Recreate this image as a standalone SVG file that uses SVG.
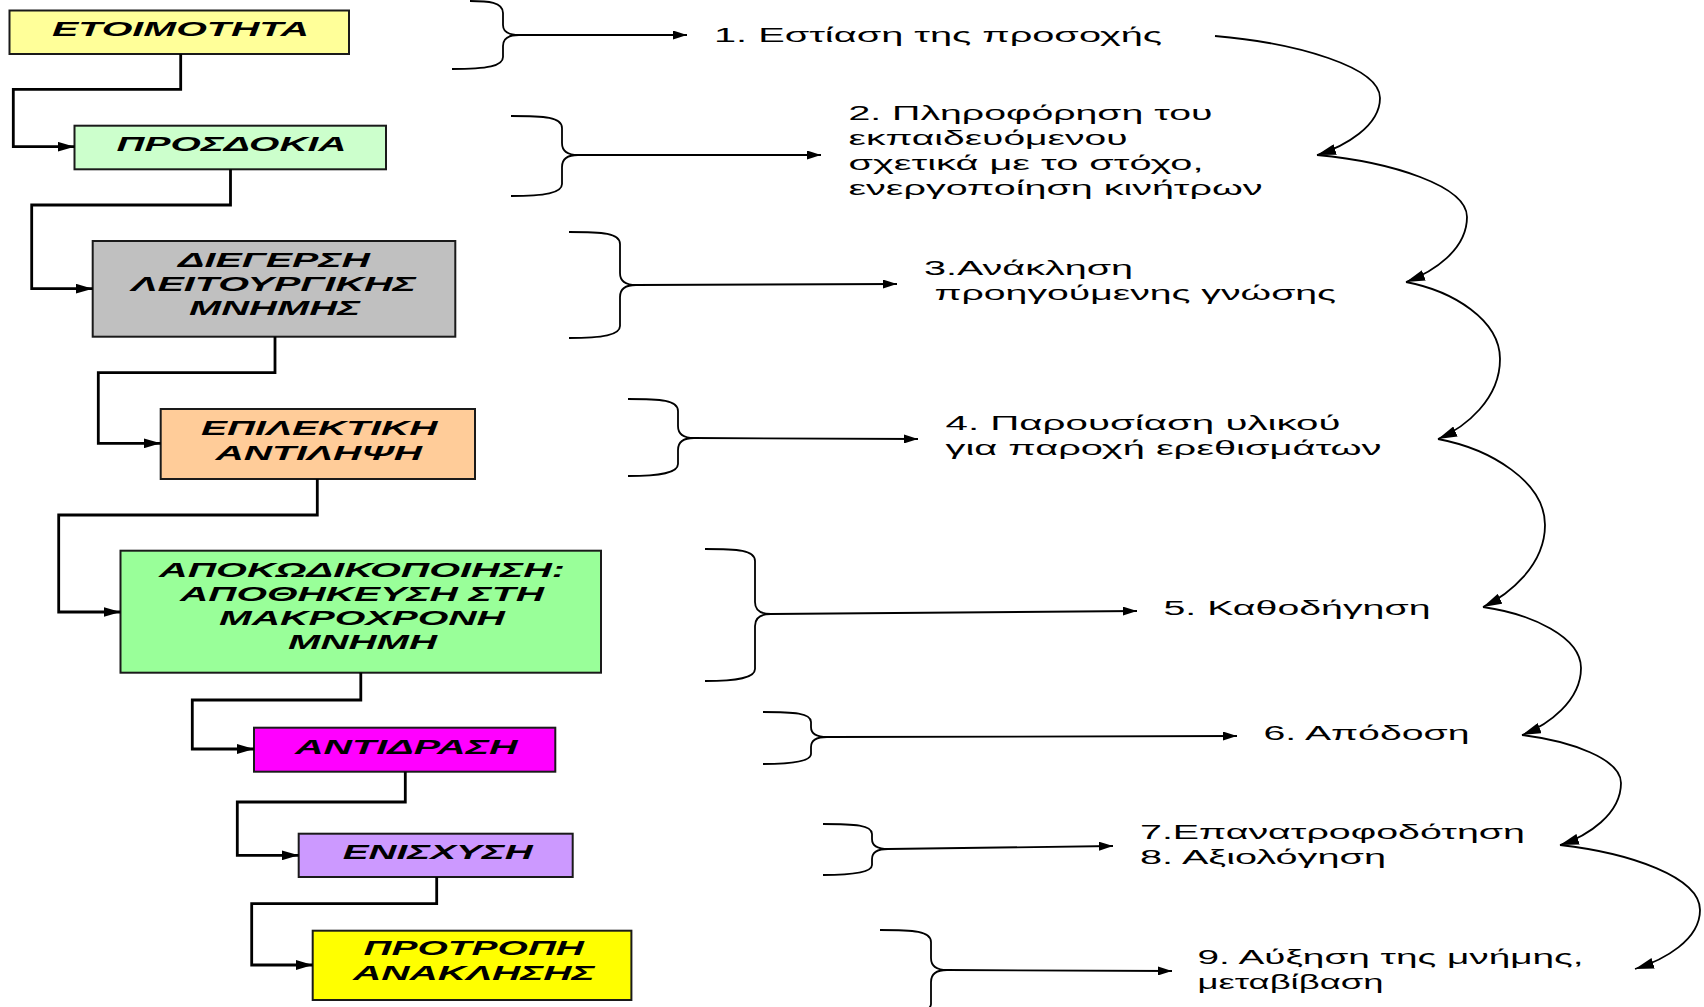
<svg xmlns="http://www.w3.org/2000/svg" width="1704" height="1007" viewBox="0 0 1704 1007">
<style>
.box{stroke:#1a1a1a;stroke-width:2}
.bt{font-family:"Liberation Sans",Arial,sans-serif;font-weight:bold;font-style:italic;font-size:21px;fill:#000}
.rt{font-family:"Liberation Sans",Arial,sans-serif;font-size:20px;fill:#000}
.conn{fill:none;stroke:#000;stroke-width:2.8}
.thin{fill:none;stroke:#000;stroke-width:1.8}
</style>
<defs>
<marker id="ah" markerWidth="17" markerHeight="10" refX="17" refY="5" orient="auto" markerUnits="userSpaceOnUse"><path d="M0,0 L17,5 L0,10 z" fill="#000"/></marker>
<marker id="ah2" markerWidth="14" markerHeight="9" refX="14" refY="4.5" orient="auto" markerUnits="userSpaceOnUse"><path d="M0,0 L14,4.5 L0,9 z" fill="#000"/></marker>
<marker id="ah3" markerWidth="19" markerHeight="11" refX="19" refY="5.5" orient="auto" markerUnits="userSpaceOnUse"><path d="M0,0 L19,5.5 L0,11 z" fill="#000"/></marker>
</defs>
<rect width="1704" height="1007" fill="#fff"/>

<g id="n1"><rect class="box" x="9.5" y="10.5" width="339.5" height="43.5" fill="#FFFF99"/>
<text class="bt" x="52" y="36" textLength="257" lengthAdjust="spacingAndGlyphs">ΕΤΟΙΜΟΤΗΤΑ</text></g>
<g id="n2"><rect class="box" x="74.5" y="125.7" width="311.5" height="43.6" fill="#CCFFCC"/>
<text class="bt" x="116.5" y="151" textLength="230" lengthAdjust="spacingAndGlyphs">ΠΡΟΣΔΟΚΙΑ</text></g>
<g id="n3"><rect class="box" x="92.7" y="241" width="362.6" height="95.7" fill="#C0C0C0"/>
<text class="bt" x="178" y="266.5" textLength="192" lengthAdjust="spacingAndGlyphs">ΔΙΕΓΕΡΣΗ</text>
<text class="bt" x="131" y="290.5" textLength="285" lengthAdjust="spacingAndGlyphs">ΛΕΙΤΟΥΡΓΙΚΗΣ</text>
<text class="bt" x="189" y="314.5" textLength="171" lengthAdjust="spacingAndGlyphs">ΜΝΗΜΗΣ</text></g>
<g id="n4"><rect class="box" x="160.7" y="409" width="314.3" height="70" fill="#FFCC99"/>
<text class="bt" x="201" y="434.5" textLength="236.5" lengthAdjust="spacingAndGlyphs">ΕΠΙΛΕΚΤΙΚΗ</text>
<text class="bt" x="215.5" y="459.5" textLength="206.5" lengthAdjust="spacingAndGlyphs">ΑΝΤΙΛΗΨΗ</text></g>
<g id="n5"><rect class="box" x="120.5" y="550.7" width="480.5" height="122" fill="#99FF99"/>
<text class="bt" x="159" y="577" textLength="406" lengthAdjust="spacingAndGlyphs">ΑΠΟΚΩΔΙΚΟΠΟΙΗΣΗ:</text>
<text class="bt" x="180" y="600.5" textLength="364" lengthAdjust="spacingAndGlyphs">ΑΠΟΘΗΚΕΥΣΗ ΣΤΗ</text>
<text class="bt" x="219" y="624.5" textLength="286" lengthAdjust="spacingAndGlyphs">ΜΑΚΡΟΧΡΟΝΗ</text>
<text class="bt" x="288" y="649" textLength="149" lengthAdjust="spacingAndGlyphs">ΜΝΗΜΗ</text></g>
<g id="n6"><rect class="box" x="254" y="727.7" width="301.3" height="44" fill="#FF00FF"/>
<text class="bt" x="295" y="754" textLength="222.5" lengthAdjust="spacingAndGlyphs">ΑΝΤΙΔΡΑΣΗ</text></g>
<g id="n7"><rect class="box" x="298.7" y="833.7" width="274" height="43.3" fill="#CC99FF"/>
<text class="bt" x="342.7" y="859" textLength="190" lengthAdjust="spacingAndGlyphs">ΕΝΙΣΧΥΣΗ</text></g>
<g id="n8"><rect class="box" x="312.7" y="930.7" width="318.7" height="69.3" fill="#FFFF00"/>
<text class="bt" x="363.5" y="954.5" textLength="220.5" lengthAdjust="spacingAndGlyphs">ΠΡΟΤΡΟΠΗ</text>
<text class="bt" x="353" y="979.5" textLength="241.7" lengthAdjust="spacingAndGlyphs">ΑΝΑΚΛΗΣΗΣ</text></g>

<g id="t1"><text class="rt" x="714" y="42" textLength="448" lengthAdjust="spacingAndGlyphs">1. Εστίαση της προσοχής</text></g>
<g id="t2">
<text class="rt" x="848.5" y="120" textLength="364" lengthAdjust="spacingAndGlyphs">2. Πληροφόρηση του</text>
<text class="rt" x="848.5" y="145" textLength="279" lengthAdjust="spacingAndGlyphs">εκπαιδευόμενου</text>
<text class="rt" x="848.5" y="170" textLength="355" lengthAdjust="spacingAndGlyphs">σχετικά με το στόχο,</text>
<text class="rt" x="848.5" y="195" textLength="414" lengthAdjust="spacingAndGlyphs">ενεργοποίηση κινήτρων</text></g>
<g id="t3">
<text class="rt" x="924" y="275" textLength="209" lengthAdjust="spacingAndGlyphs">3.Ανάκληση</text>
<text class="rt" x="934.5" y="300" textLength="401.5" lengthAdjust="spacingAndGlyphs">προηγούμενης γνώσης</text></g>
<g id="t4">
<text class="rt" x="945.5" y="430" textLength="395" lengthAdjust="spacingAndGlyphs">4. Παρουσίαση υλικού</text>
<text class="rt" x="945.5" y="455" textLength="436" lengthAdjust="spacingAndGlyphs">για παροχή ερεθισμάτων</text></g>
<g id="t5"><text class="rt" x="1163.5" y="615" textLength="267" lengthAdjust="spacingAndGlyphs">5. Καθοδήγηση</text></g>
<g id="t6"><text class="rt" x="1263.5" y="740" textLength="206" lengthAdjust="spacingAndGlyphs">6. Απόδοση</text></g>
<g id="t7">
<text class="rt" x="1140" y="839" textLength="385" lengthAdjust="spacingAndGlyphs">7.Επανατροφοδότηση</text>
<text class="rt" x="1140" y="864" textLength="246" lengthAdjust="spacingAndGlyphs">8. Αξιολόγηση</text></g>
<g id="t9">
<text class="rt" x="1197.5" y="964" textLength="386" lengthAdjust="spacingAndGlyphs">9. Αύξηση της μνήμης,</text>
<text class="rt" x="1197.5" y="989" textLength="186" lengthAdjust="spacingAndGlyphs">μεταβίβαση</text></g>

<g id="connectors">
<path class="conn" marker-end="url(#ah)" d="M180.7,54 V89.3 H13.3 V146.7 H74.5"/>
<path class="conn" marker-end="url(#ah)" d="M230.5,169.3 V205 H31.7 V288.7 H92.7"/>
<path class="conn" marker-end="url(#ah)" d="M275,336.7 V372.7 H98.3 V443.3 H160.7"/>
<path class="conn" marker-end="url(#ah)" d="M317.3,479 V515 H58.7 V612 H120.5"/>
<path class="conn" marker-end="url(#ah)" d="M360.8,672.7 V700 H192.3 V749 H254"/>
<path class="conn" marker-end="url(#ah)" d="M405.3,771.7 V802 H237.3 V855.3 H298.7"/>
<path class="conn" marker-end="url(#ah)" d="M436.7,877 V903.7 H251.7 V965 H312.7"/>

<path class="thin" d="M470,1 C488,1 503,2 503,13 V25 C503,31 507,35 519,35 C507,35 503,39 503,46 V57 C503,66 488,69 452,69"/>
<path class="thin" d="M511,116 C545,116 562,117 562,128 V143 C562,150 566,155 578,155 C566,155 562,160 562,167 V184 C562,193 545,196 511,196"/>
<path class="thin" d="M569,232 C603,232 620,233 620,244 V273 C620,280 624,285 636,285 C624,285 620,290 620,297 V326 C620,335 603,338 569,338"/>
<path class="thin" d="M628,399 C661,399 678,400 678,411 V426 C678,433 682,438 694,438 C682,438 678,443 678,450 V464 C678,473 661,476 628,476"/>
<path class="thin" d="M705,549 C738,549 755,550 755,561 V602 C755,609 759,614 771,614 C759,614 755,619 755,626 V669 C755,678 738,681 705,681"/>
<path class="thin" d="M763,712 C794,712 811,713 811,722 V727 C811,733 815,737 827,737 C815,737 811,741 811,747 V754 C811,761 794,764 763,764"/>
<path class="thin" d="M823,824 C855,824 872,825 872,834 V839 C872,845 876,849 888,849 C876,849 872,853 872,859 V865 C872,872 855,875 823,875"/>
<path class="thin" d="M880,930 C914,930 931,931 931,942 V958 C931,965 935,970 947,970 C935,970 931,975 931,982 V1004 C931,1010 920,1013 905,1014"/>

<path class="thin" marker-end="url(#ah2)" d="M519,35 L687,35"/>
<path class="thin" marker-end="url(#ah2)" d="M578,155 L821,155"/>
<path class="thin" marker-end="url(#ah2)" d="M636,285 L897,284"/>
<path class="thin" marker-end="url(#ah2)" d="M694,438 L918,439"/>
<path class="thin" marker-end="url(#ah2)" d="M771,614 L1137,611"/>
<path class="thin" marker-end="url(#ah2)" d="M827,737 L1237,736"/>
<path class="thin" marker-end="url(#ah2)" d="M888,849 L1113,846"/>
<path class="thin" marker-end="url(#ah2)" d="M947,970 L1172,971"/>

<path class="thin" marker-end="url(#ah3)" d="M1215,36 C1297,43 1380,67 1380,98 C1380,126 1345,146.5 1317,155"/>
<path class="thin" marker-end="url(#ah3)" d="M1317,155 C1392,162 1467,186 1467,217 C1467,250 1433,272 1406,282"/>
<path class="thin" marker-end="url(#ah3)" d="M1406,282 C1453,291 1500,320 1500,359 C1500,399 1466,427 1438,439"/>
<path class="thin" marker-end="url(#ah3)" d="M1438,439 C1491,449 1545,482 1545,525 C1545,566 1508,595 1483,607"/>
<path class="thin" marker-end="url(#ah3)" d="M1483,607 C1532,614 1581,637 1581,668 C1581,701 1548,725 1522,735"/>
<path class="thin" marker-end="url(#ah3)" d="M1522,735 C1571,741 1621,759 1621,783 C1621,814 1588,836 1560,845"/>
<path class="thin" marker-end="url(#ah3)" d="M1560,845 C1630,853 1700,877 1700,910 C1700,940 1664,960 1635,969"/>
</g>
</svg>
